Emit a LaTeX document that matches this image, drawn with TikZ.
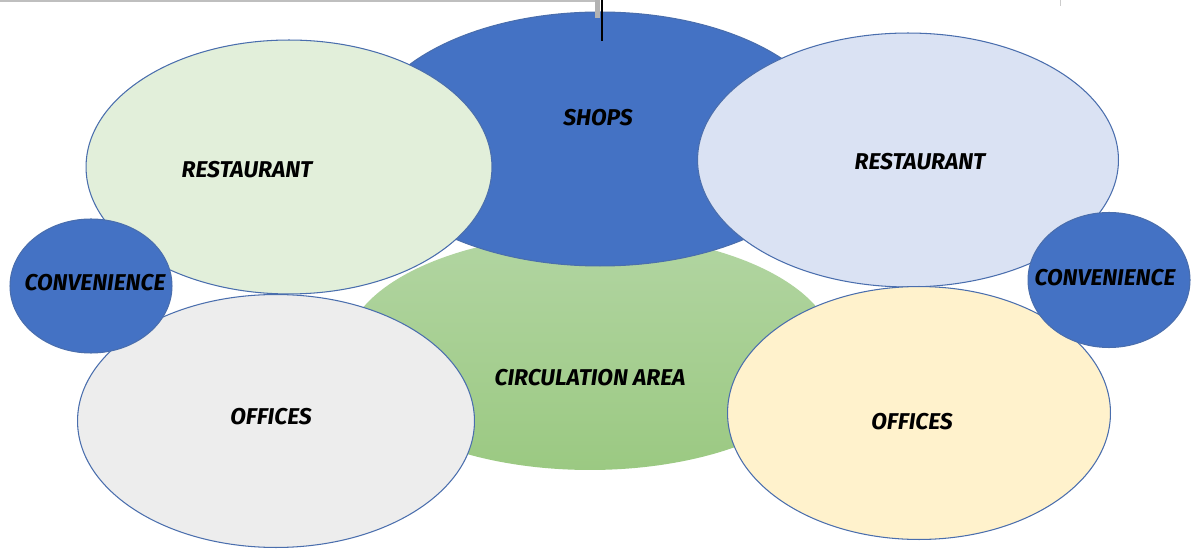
\documentclass[tikz,border=0pt]{standalone}
\usepackage{fontspec}
\newfontfamily\tagfont{Fira Sans}
\usetikzlibrary{shapes.geometric}

\definecolor{darkblue}{HTML}{4472C4}
\definecolor{rim}{HTML}{4A6EAD}
\definecolor{palegreen}{HTML}{E2EFDA}
\definecolor{paleblue}{HTML}{DAE2F3}
\definecolor{palegray}{HTML}{EDEDED}
\definecolor{paleyellow}{HTML}{FFF2CC}
\definecolor{greentop}{HTML}{B2D5A2}
\definecolor{greenbot}{HTML}{9BC982}

\tikzset{
  zone/.style={ellipse, draw=rim, line width=0.6pt, inner sep=0pt},
  tag/.style={font=\tagfont\bfseries\itshape\fontsize{13}{15}\selectfont, text=black}
}

\begin{document}
\begin{tikzpicture}[x=0.02cm, y=-0.02cm]
  \useasboundingbox (0,0) rectangle (1193,550);

  % circulation space in the middle
  \node[zone, top color=greentop, bottom color=greenbot, draw=none,
        minimum width=9.8cm, minimum height=4.72cm] (circ) at (590,352) {};
  \node[zone, fill=darkblue, minimum width=9.4cm, minimum height=5.08cm] (shops) at (600,139) {};

  % restaurants
  \node[zone, fill=palegreen, minimum width=8.12cm, minimum height=5.08cm] (r1) at (289,167) {};
  \node[zone, fill=paleblue, minimum width=8.42cm, minimum height=5.08cm] (r2) at (908,160) {};

  % offices
  \node[zone, fill=palegray, minimum width=7.94cm, minimum height=5.06cm] (o1) at (276,421) {};
  \node[zone, fill=paleyellow, minimum width=7.66cm, minimum height=5.06cm] (o2) at (919,413) {};

  % convenience
  \node[zone, fill=darkblue, minimum width=3.24cm, minimum height=2.68cm] (c1) at (91,286) {};
  \node[zone, fill=darkblue, minimum width=3.24cm, minimum height=2.7cm] (c2) at (1109,280) {};

  % labels
  \node[tag] (tshops) at (598,118) {SHOPS};
  \node[tag] (tr1) at (247,170) {RESTAURANT};
  \node[tag] (tr2) at (920,162) {RESTAURANT};
  \node[tag] (tc1) at (95,283) {CONVENIENCE};
  \node[tag] (tc2) at (1105,278) {CONVENIENCE};
  \node[tag] (tcirc) at (590,378) {CIRCULATION AREA};
  \node[tag] (to1) at (271,417) {OFFICES};
  \node[tag] (to2) at (912,422) {OFFICES};

  % page edge marks
  \draw[gray!50, line width=1.2pt] (0,1) -- (598,1);
  \fill[gray!60] (595,0) rectangle (600,18);
  \draw[black, line width=1.6pt] (602,0) -- (602,41);
  \draw[gray!40, line width=0.4pt] (1060,0) -- (1060,6);
\end{tikzpicture}
\end{document}
